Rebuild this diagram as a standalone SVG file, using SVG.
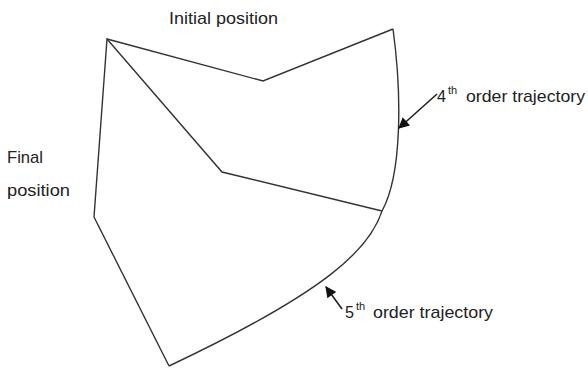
<svg xmlns="http://www.w3.org/2000/svg" width="588" height="370" viewBox="0 0 588 370">
<defs>
<style>
.l{fill:none;stroke:#333;stroke-width:1.4;stroke-linejoin:miter}
.t{font-family:"Liberation Sans",Arial,sans-serif;font-size:17px;fill:#222}
.s{font-size:11px}
.a{stroke:#222;stroke-width:1.6;fill:none}
</style>
<marker id="ah" viewBox="0 0 10 10" refX="9" refY="5" markerWidth="12" markerHeight="11" markerUnits="userSpaceOnUse" orient="auto">
<path d="M0,0 L10,5 L0,10 Z" fill="#111"/>
</marker>
</defs>
<rect width="588" height="370" fill="#fff"/>
<g id="shapes">
<path class="l" d="M94,217 L107,39 L263,81 L393,29"/>
<path class="l" d="M107,39 L222,172 L382,211"/>
<path class="l" d="M94,217 L169,366"/>
<path class="l" d="M393,29 C402,95 402,175 382,211 C370,248 330,290 169,366"/>
</g>
<g id="connectors">
<line class="a" x1="437" y1="94" x2="399" y2="128" marker-end="url(#ah)"/>
<line class="a" x1="342" y1="309" x2="326" y2="287" marker-end="url(#ah)"/>
</g>
<g id="labels">
<text class="t" x="169" y="24" textLength="109" lengthAdjust="spacingAndGlyphs">Initial position</text>
<text class="t" x="7" y="163" textLength="36" lengthAdjust="spacingAndGlyphs">Final</text>
<text class="t" x="7" y="196" textLength="63" lengthAdjust="spacingAndGlyphs">position</text>
<text class="t" x="437" y="102" textLength="9" lengthAdjust="spacingAndGlyphs">4</text>
<text class="t s" x="448" y="94">th</text>
<text class="t" x="466" y="102" textLength="119" lengthAdjust="spacingAndGlyphs">order trajectory</text>
<text class="t" x="345" y="318" textLength="9" lengthAdjust="spacingAndGlyphs">5</text>
<text class="t s" x="356" y="310">th</text>
<text class="t" x="373" y="318" textLength="120" lengthAdjust="spacingAndGlyphs">order trajectory</text>
</g>
</svg>
